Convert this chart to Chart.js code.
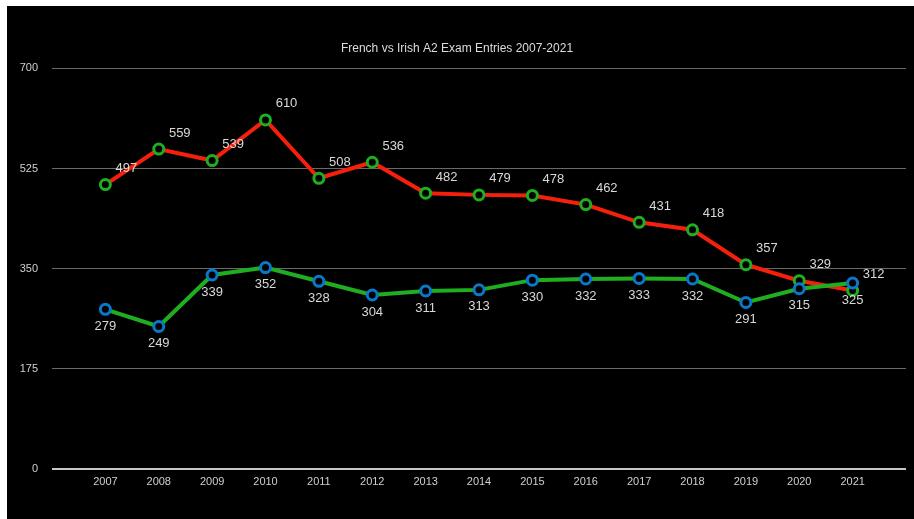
<!DOCTYPE html>
<html>
<head>
<meta charset="utf-8">
<script src="https://cdn.jsdelivr.net/npm/chart.js@4"></script>
<style>
  html { background: #000; }
  html, body { margin: 0; padding: 0; overflow: hidden; }
  body { background: #000; width: 914px; height: 519px; position: relative; }
  #topEdge { position: absolute; left: 0; top: 0; width: 914px; height: 6px; background: #fff; }
  #leftEdge { position: absolute; left: 0; top: 0; width: 7px; height: 519px; background: #fff; }
  #wrap { position: absolute; left: 7px; top: 6px; width: 907px; height: 513px; background: #000; }
</style>
</head>
<body>
<div id="topEdge"></div>
<div id="leftEdge"></div>
<div id="wrap"><canvas id="chart" width="907" height="513"></canvas></div>
<script>
const years = [2007, 2008, 2009, 2010, 2011, 2012, 2013, 2014, 2015, 2016, 2017, 2018, 2019, 2020, 2021];
const french = [497, 559, 539, 610, 508, 536, 482, 479, 478, 462, 431, 418, 357, 329, 312];
const irish = [279, 249, 339, 352, 328, 304, 311, 313, 330, 332, 333, 332, 291, 315, 325];
const yTicks = [0, 175, 350, 525, 700];

// white value labels next to each point
const valueLabels = {
    id: "valueLabels",
    afterDatasetsDraw(chart) {
        const ctx = chart.ctx;
        ctx.save();
        ctx.font = "13px 'Liberation Sans', Arial, sans-serif";
        ctx.fillStyle = "#d8d8d8";
        ctx.textAlign = "center";
        ctx.textBaseline = "middle";
        chart.data.datasets.forEach((ds, i) => {
            const meta = chart.getDatasetMeta(i);
            meta.data.forEach((pt, j) => {
                ctx.fillText(String(ds.data[j].y), pt.x + ds.labelDx, pt.y + ds.labelDy);
            });
        });
        ctx.restore();
    }
};

const ctx = document.getElementById("chart").getContext("2d");

new Chart(ctx, {
    type: "line",
    data: {
        datasets: [
            {
                label: "French",
                data: years.map((y, i) => ({ x: y, y: french[i] })),
                borderColor: "#f5200c",
                borderWidth: 4,
                pointRadius: 5,
                pointBorderWidth: 3,
                pointBorderColor: "#1fae1f",
                pointBackgroundColor: "#000",
                order: 1,
                labelDx: 21,
                labelDy: -16,
            },
            {
                label: "Irish",
                data: years.map((y, i) => ({ x: y, y: irish[i] })),
                borderColor: "#1fae1f",
                borderWidth: 4,
                pointRadius: 5,
                pointBorderWidth: 3,
                pointBorderColor: "#0a78c8",
                pointBackgroundColor: "#000",
                order: 0,
                labelDx: 0,
                labelDy: 17,
            }
        ]
    },
    options: {
        responsive: false,
        animation: false,
        layout: { padding: { left: 0, right: 7, top: 0, bottom: 0 } },
        plugins: {
            legend: { display: false },
            tooltip: { enabled: false },
            title: {
                display: true,
                text: "French vs Irish A2 Exam Entries 2007-2021",
                color: "#dcdcdc",
                font: { family: "'Liberation Sans', Arial, sans-serif", size: 12, weight: "normal" },
                padding: { top: 35, bottom: 13 },
            },
        },
        scales: {
            x: {
                type: "linear",
                min: 2006,
                max: 2022,
                afterBuildTicks: (scale) => {
                    scale.ticks = years.map((v) => ({ value: v }));
                },
                afterFit: (scale) => { scale.height = 50; },
                ticks: {
                    color: "#cfcfcf",
                    padding: 6,
                    font: { family: "'Liberation Sans', Arial, sans-serif", size: 11 },
                    callback: (v) => String(v),
                    maxRotation: 0,
                    autoSkip: false,
                },
                grid: { display: false, drawTicks: false },
                border: { display: false },
            },
            y: {
                min: 0,
                max: 700,
                afterBuildTicks: (scale) => {
                    scale.ticks = yTicks.map((v) => ({ value: v }));
                },
                afterFit: (scale) => { scale.width = 45; },
                ticks: {
                    color: "#cfcfcf",
                    padding: 14,
                    font: { family: "'Liberation Sans', Arial, sans-serif", size: 11 },
                },
                grid: {
                    drawTicks: false,
                    color: (c) => (c.tick && c.tick.value === 0 ? "#c8c8c8" : "#6a6a6a"),
                    lineWidth: (c) => (c.tick && c.tick.value === 0 ? 2 : 1),
                },
                border: { display: false },
            },
        },
    },
    plugins: [valueLabels],
});
</script>
</body>
</html>
